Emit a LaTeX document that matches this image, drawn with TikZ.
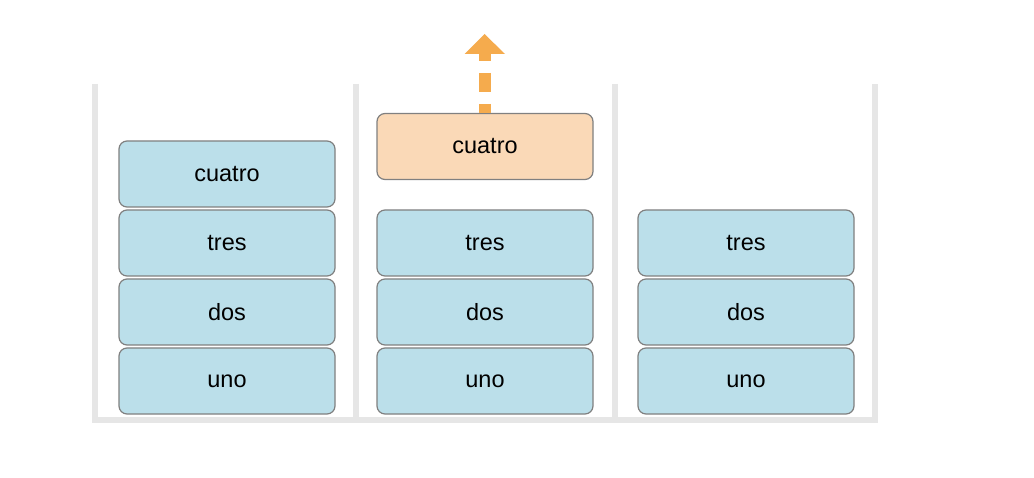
\documentclass[tikz,border=0pt]{standalone}
\usepackage{fontspec}
\setmainfont{Liberation Sans}
\usetikzlibrary{arrows.meta}
\definecolor{boxblue}{HTML}{BBDFEA}
\definecolor{boxorange}{HTML}{FAD9B7}
\definecolor{edgegray}{HTML}{808080}
\definecolor{wallgray}{HTML}{E6E6E6}
\definecolor{arroworange}{HTML}{F5AB4D}
\tikzset{
  stackbox/.style={draw=edgegray, line width=1.2pt, rounded corners=8pt, minimum width=216pt, minimum height=66pt, inner sep=0pt, font=\fontsize{23.5}{28}\selectfont, text=black},
  blue box/.style={stackbox, fill=boxblue},
  orange box/.style={stackbox, fill=boxorange},
  wall/.style={draw=wallgray, line width=6pt},
}
\begin{document}
\begin{tikzpicture}[x=1pt,y=-1pt]
\path[use as bounding box, fill=white] (0,0) rectangle (1034,478);
% walls
\draw[wall] (95,84) -- (95,420) -- (874.5,420) -- (874.5,84);
\draw[wall] (356,84) -- (356,420);
\draw[wall] (614.5,84) -- (614.5,420);
% column 1
\node[blue box] (a1) at (227,381) {uno};
\node[blue box] (a2) at (227,312) {dos};
\node[blue box] (a3) at (227,243) {tres};
\node[blue box] (a4) at (227,174) {cuatro};
% column 2
\node[blue box] (b1) at (485,381) {uno};
\node[blue box] (b2) at (485,312) {dos};
\node[blue box] (b3) at (485,243) {tres};
\node[orange box] (b4) at (485,146.5) {cuatro};
% column 3
\node[blue box] (c1) at (746,381) {uno};
\node[blue box] (c2) at (746,312) {dos};
\node[blue box] (c3) at (746,243) {tres};
% arrow
\coordinate (tip) at (484.5,34);
\coordinate (shaft) at (484.5,54);
\coordinate (start) at (484.5,113);
\draw[arroworange, line width=12pt, dash pattern=on 19pt off 12pt, dash phase=12pt] (shaft) -- (start);
\fill[arroworange] (464.5,54) -- (tip) -- (505,54) -- cycle;
\end{tikzpicture}
\end{document}
